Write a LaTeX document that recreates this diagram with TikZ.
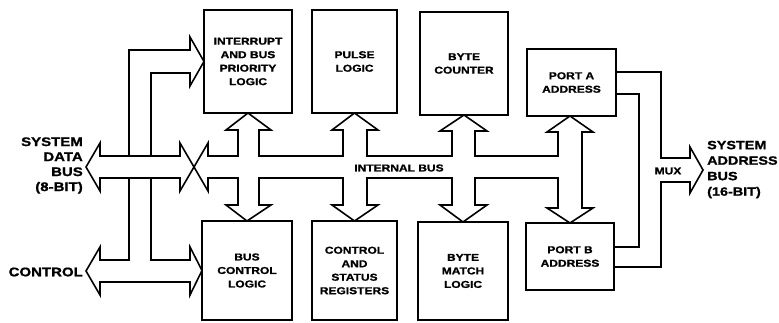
\documentclass[tikz,border=0pt]{standalone}
\usepackage{fontspec}
\setmainfont{Liberation Sans}[FakeStretch=1.2,FakeBold=1.2]
\begin{document}
\begin{tikzpicture}[x=1pt,y=-1pt,
  blk/.style={draw,line width=2.8pt,rectangle,inner sep=0pt,outer sep=0pt,align=center,
    font=\fontsize{10}{13.5}\selectfont\bfseries},
  bus/.style={line width=1.6pt,line join=miter},
  lbl/.style={font=\fontsize{12.5}{15}\selectfont\bfseries,inner sep=0pt},
  sml/.style={font=\fontsize{10}{12}\selectfont\bfseries,inner sep=0pt}]
\useasboundingbox (0,0) rectangle (779,323);
% blocks
\node[blk,minimum width=88pt,minimum height=103pt] (intr) at (248,61.5) {INTERRUPT\\AND BUS\\PRIORITY\\LOGIC};
\node[blk,minimum width=85pt,minimum height=103pt] (pulse) at (354.5,61.5) {PULSE\\LOGIC};
\node[blk,minimum width=88pt,minimum height=103pt] (bytec) at (464,63.5) {BYTE\\COUNTER};
\node[blk,minimum width=89pt,minimum height=67pt] (porta) at (571.5,82.5) {PORT A\\ADDRESS};
\node[blk,minimum width=88pt,minimum height=67pt] (portb) at (570,256.5) {PORT B\\ADDRESS};
\node[blk,minimum width=90pt,minimum height=99pt] (busctl) at (247,270.5) {BUS\\CONTROL\\LOGIC};
\node[blk,minimum width=85pt,minimum height=99pt] (ctlstat) at (354.5,270.5) {CONTROL\\AND\\STATUS\\REGISTERS};
\node[blk,minimum width=90pt,minimum height=98pt] (bytem) at (463,271) {BYTE\\MATCH\\LOGIC};
% system data bus
\draw[bus] (100,156)--(100,143)--(86,167)--(100,191)--(100,178)--(180,178)--(180,191)--(194,167)--(180,143)--(180,156)--cycle;
\draw[bus] (129,156)--(129,50)--(190,50)--(190,37)--(intr.west)--(190,86)--(190,73)--(151,73)--(151,156);
\draw[bus] (129,178)--(129,260)--(100,260)--(100,247)--(86,271)--(100,295)--(100,282)--(190,282)--(190,295)--(busctl.west)--(190,247)--(190,260)--(151,260)--(151,178);
% internal bus
\draw[bus] (194,167)--(208,143)--(208,156)--(238,156)--(238,130)--(226,130)--(intr.south)--(271,130)--(259,130)--(259,156)
  --(343,156)--(343,130)--(332,130)--(pulse.south)--(378,130)--(367,130)--(367,156)
  --(452,156)--(452,131)--(440,131)--(bytec.south)--(487,131)--(475,131)--(475,156)
  --(558,156)--(558,132)--(547,132)--(570,116)--(593,132)--(582,132)--(582,208)--(593,208)--(portb.north)--(547,208)--(558,208)
  --(558,178)--(475,178)--(475,205)--(487,205)--(bytem.north)--(440,205)--(452,205)--(452,178)
  --(367,178)--(367,205)--(378,205)--(ctlstat.north)--(332,205)--(343,205)--(343,178)
  --(259,178)--(259,205)--(271,205)--(busctl.north)--(226,205)--(238,205)--(238,178)
  --(208,178)--(208,191)--cycle;
% mux
\draw[bus] (616,72)--(661,72)--(661,158)--(690,158)--(690,147)--(703,170)--(690,193)--(690,182)--(661,182)--(661,267)--(614,267);
\draw[bus] (616,94)--(639,94)--(639,247)--(614,247);
% labels
\node[lbl,align=right,anchor=east] (sdb) at (83,165.5) {SYSTEM\\DATA\\BUS\\(8-BIT)};
\node[lbl,anchor=east] (ctl) at (83,272) {CONTROL};
\node[lbl,align=left,anchor=west,font=\fontsize{12}{15.5}\selectfont\bfseries] (sab) at (707,169.5) {SYSTEM\\ADDRESS\\BUS\\(16-BIT)};
\node[sml] (ib) at (399,168) {INTERNAL BUS};
\node[sml] (mux) at (668,171) {MUX};
\end{tikzpicture}
\end{document}
